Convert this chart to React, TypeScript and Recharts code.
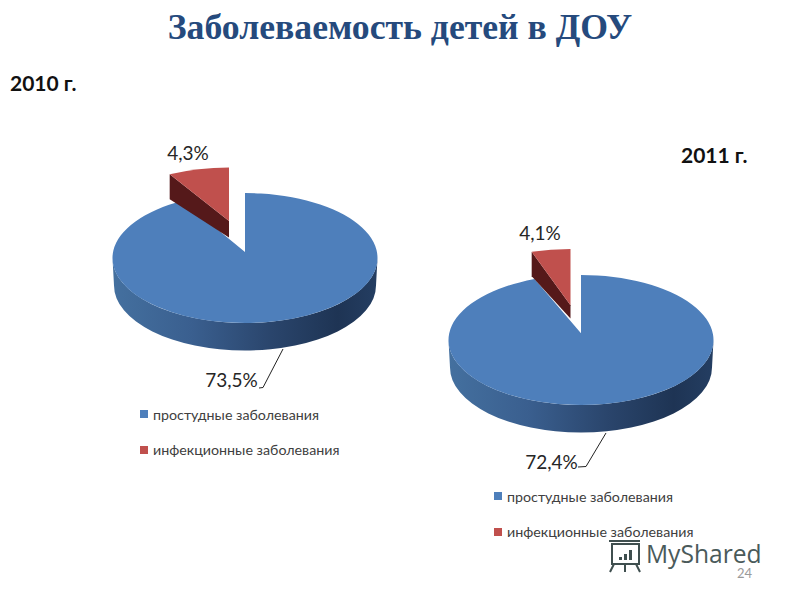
import React from "react";
import { PieChart, Pie, Legend } from "recharts";

const categories = ["простудные заболевания", "инфекционные заболевания"];
const shares2010 = [92.2, 7.8];
const shares2011 = [94.3, 5.7];
const printed2010 = ["73,5%", "4,3%"];
const printed2011 = ["72,4%", "4,1%"];
const colors = ["#4e7fbb", "#c0504d"];

const rows = (shares: number[], printed: string[]) =>
  categories.map((name, i) => ({ name, share: shares[i], printed: printed[i] }));

type Layout = {
  id: string; cx: number; cy: number; rx: number; ry: number; depth: number;
  apexDy: number; redDx: number; redDy: number; redApexDy: number; redInset: number;
  cutL: number; cutA: number; label0: [number, number]; label1: [number, number];
  leader: [number, number][]; legendX: number; legendY: number;
};

const layout2010: Layout = {
  id: "a", cx: 245, cy: 258, rx: 132.5, ry: 65, depth: 27.5, apexDy: -6, redDx: -16, redDy: -25.5, redApexDy: -31,
  redInset: 1.5, cutL: 25, cutA: 16.6, label0: [231.5, 387], label1: [188, 160],
  leader: [[283, 349], [263, 387.5], [259, 388]], legendX: 140, legendY: 414,
};
const layout2011: Layout = {
  id: "b", cx: 581, cy: 340, rx: 132.5, ry: 65, depth: 27.5, apexDy: -6.7, redDx: -10.5, redDy: -26, redApexDy: -28,
  redInset: 3.5, cutL: 24.4, cutA: 13.3, label0: [551.5, 469], label1: [540, 240],
  leader: [[606, 433], [586, 466.5], [578, 467]], legendX: 494, legendY: 496,
};

function Slice3D(props: any, l: Layout) {
  const { cx, cy, outerRadius, startAngle, endAngle, index } = props;
  const rx = outerRadius;
  const ry = l.ry;
  const rad = (d: number) => (d * Math.PI) / 180;
  let t0 = 90 - startAngle;
  const t1 = 90 - endAngle;
  const dx = index === 1 ? l.redDx : 0;
  const dy = index === 1 ? l.redDy : 0;
  if (index === 1) t0 += l.redInset;
  const pt = (t: number): [number, number] => [cx + dx + rx * Math.sin(rad(t)), cy + dy - ry * Math.cos(rad(t))];
  const p0 = pt(t0);
  const p1 = pt(t1);
  const large = Math.abs(t1 - t0) > 180 ? 1 : 0;
  if (index === 0) {
    const apex = [cx, cy + l.apexDy];
    const inset = 1.5;
    return (
      <g>
        <defs>
          <linearGradient id={`side-${l.id}`} x1="0" y1="0" x2="1" y2="0">
            <stop offset="0" stopColor="#44709f" />
            <stop offset="0.3" stopColor="#3a5f8f" />
            <stop offset="0.6" stopColor="#2a456c" />
            <stop offset="0.85" stopColor="#1e3454" />
            <stop offset="1" stopColor="#243e62" />
          </linearGradient>
        </defs>
        <path
          d={`M ${cx + rx} ${cy} A ${rx} ${ry} 0 0 1 ${cx - rx} ${cy} L ${cx - rx + inset} ${cy + l.depth} A ${rx - inset} ${ry} 0 0 0 ${cx + rx - inset} ${cy + l.depth} Z`}
          fill={`url(#side-${l.id})`}
        />
        <path
          d={`M ${apex[0]} ${apex[1]} L ${p0[0]} ${p0[1]} A ${rx} ${ry} 0 ${large} 1 ${p1[0]} ${p1[1]} Z`}
          fill={colors[0]}
        />
      </g>
    );
  }
  const ax = cx + dx;
  const ay = cy + l.apexDy + l.redApexDy;
  return (
    <g>
      <path
        d={`M ${p0[0]} ${p0[1]} L ${ax} ${ay} L ${ax} ${ay + l.cutA} L ${p0[0]} ${p0[1] + l.cutL} Z`}
        fill="#55191a"
      />
      <path
        d={`M ${ax} ${ay} L ${p0[0]} ${p0[1]} A ${rx} ${ry} 0 ${large} 1 ${p1[0]} ${p1[1]} Z`}
        fill={colors[1]}
      />
    </g>
  );
}

function sliceLabel(props: any, l: Layout) {
  const { index, payload } = props;
  const text = payload?.printed ?? props.printed;
  const pos = index === 0 ? l.label0 : l.label1;
  return (
    <g>
      {index === 0 && (
        <polyline points={l.leader.map((p) => p.join(",")).join(" ")} fill="none" stroke="#222222" strokeWidth={1} />
      )}
      <text x={pos[0]} y={pos[1]} textAnchor="middle" fontFamily="Lato" fontSize={19} fill="#262626">
        {text}
      </text>
    </g>
  );
}

function legendContent(l: Layout) {
  return () => (
    <div style={{ position: "relative", width: 260, height: 60 }}>
      {categories.map((name, i) => (
        <div
          key={name}
          style={{
            position: "absolute", left: 0, top: i * 35.5, height: 16, display: "flex", alignItems: "center",
            fontFamily: "Lato", fontSize: 14.25, color: "#404040", whiteSpace: "nowrap",
          }}
        >
          <span style={{ display: "inline-block", width: 8, height: 8, background: colors[i], marginRight: 5 }} />
          {name}
        </div>
      ))}
    </div>
  );
}

function YearPie({ data, l }: { data: any[]; l: Layout }) {
  return (
    <div style={{ position: "absolute", left: 0, top: 0 }}>
      <PieChart width={800} height={600} margin={{ top: 0, right: 0, bottom: 0, left: 0 }}>
        <Pie
          data={data}
          dataKey="share"
          nameKey="name"
          cx={l.cx}
          cy={l.cy}
          outerRadius={l.rx}
          startAngle={90}
          endAngle={-270}
          stroke="none"
          isAnimationActive={false}
          labelLine={false}
          label={(p: any) => sliceLabel(p, l)}
          shape={(p: any) => Slice3D(p, l)}
        />
        <Legend
          content={legendContent(l)}
          wrapperStyle={{ position: "absolute", left: l.legendX, top: l.legendY - 8, width: 260, bottom: "auto" }}
        />
      </PieChart>
    </div>
  );
}

export default function App() {
  return (
    <div style={{ position: "absolute", left: 0, top: 0, width: 800, height: 600, background: "#fff", overflow: "hidden" }}>
      <YearPie data={rows(shares2010, printed2010)} l={layout2010} />
      <YearPie data={rows(shares2011, printed2011)} l={layout2011} />
      <svg width={800} height={600} style={{ position: "absolute", left: 0, top: 0, pointerEvents: "none" }}>
        <text x={400} y={39} textAnchor="middle" fontFamily="Liberation Serif" fontWeight="bold" fontSize={35.7} fill="#254a7d">
          Заболеваемость детей в ДОУ
        </text>
        <text x={10} y={91} fontFamily="Lato" fontWeight="bold" fontSize={21} fill="#111">2010 г.</text>
        <text x={681} y={163} fontFamily="Lato" fontWeight="bold" fontSize={21} fill="#111">2011 г.</text>
        <text x={737} y={578} fontFamily="Lato" fontSize={13} fill="#9a9a9a">24</text>
        <g stroke="#3f4f4f" strokeWidth={2} fill="none">
          <rect x={612} y={544} width={27} height={20} />
          <path d="M614 564 L610 572 M625 564 L625 572 M636 564 L640 572" />
          <path d="M609 541 H640" />
        </g>
        <g fill="#3f4f4f">
          <rect x={619} y={557} width={3} height={3} />
          <rect x={624} y={554} width={3} height={6} />
          <rect x={629} y={550} width={3} height={10} />
        </g>
        <text x={646} y={563} fontFamily="Open Sans" fontSize={24.6} fill="#4a5a5a">MyShared</text>
      </svg>
    </div>
  );
}
